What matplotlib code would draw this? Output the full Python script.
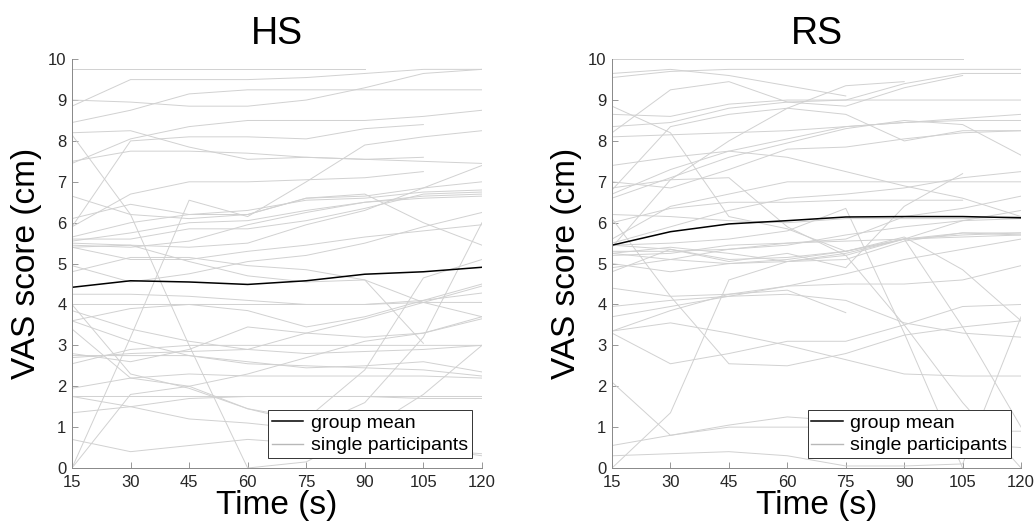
import numpy as np
import matplotlib
matplotlib.use("Agg")
import matplotlib.pyplot as plt

plt.rcParams['font.family'] = ['Liberation Sans', 'DejaVu Sans']

N = np.nan
TIME = [15, 30, 45, 60, 75, 90, 105, 120]

HS_MEAN = [4.42, 4.58, 4.55, 4.49, 4.58, 4.74, 4.80, 4.91]
RS_MEAN = [5.45, 5.78, 5.97, 6.05, 6.14, 6.15, 6.15, 6.12]

# one row per participant, VAS at each time point
HS_SINGLE = [
    [9.75, 9.75, 9.75, 9.75, 9.75, 9.75, N, N],
    [8.85, 9.5, 9.5, 9.5, 9.55, 9.65, 9.75, 9.75],
    [9.0, 8.95, 8.85, 8.85, 9.0, 9.3, 9.65, 9.75],
    [8.45, 8.75, 9.15, 9.25, 9.25, 9.25, 9.25, 9.25],
    [8.2, 8.25, 7.85, 7.55, 7.6, 7.55, 7.5, 7.45],
    [7.45, 8.05, 8.35, 8.5, 8.5, 8.5, 8.6, 8.75],
    [7.5, 7.75, 7.75, 7.7, 7.6, 7.55, 7.6, N],
    [5.9, 8.0, 8.1, 8.1, 8.05, 8.3, 8.4, N],
    [8.15, 6.2, 3.0, 0.0, 0.15, 0.9, 1.8, 3.0],
    [0.0, 3.2, 6.55, 6.15, 7.0, 7.9, 8.1, 8.25],
    [5.9, 6.7, 7.0, 7.0, 7.05, 7.1, 7.25, N],
    [6.1, 6.45, 6.2, 6.2, 6.6, 6.65, 6.85, 7.4],
    [6.65, 6.2, 6.1, 6.2, 6.6, 6.7, 6.0, 5.45],
    [5.65, 6.0, 6.2, 6.3, 6.55, 6.6, 6.75, 6.8],
    [5.6, 5.6, 5.85, 5.85, 6.05, 6.35, 6.7, 6.75],
    [5.55, 5.75, 6.0, 6.05, 6.3, 6.5, 6.65, 6.7],
    [5.45, 5.4, 5.55, 5.95, 6.25, 6.5, 6.6, 6.65],
    [5.4, 5.45, 5.4, 5.5, 5.95, 6.3, 6.85, 7.0],
    [5.4, 5.1, 5.1, 5.3, 5.45, 5.65, 5.8, 5.95],
    [5.5, 5.45, 5.05, 4.7, 4.55, 4.6, 4.05, 3.7],
    [4.8, 5.15, 5.15, 4.95, 4.85, 4.6, 3.05, N],
    [4.95, 4.55, 4.75, 5.05, 5.2, 5.5, 5.9, 6.25],
    [4.25, 4.25, 4.2, 4.1, 4.0, 4.0, 4.1, 4.28],
    [4.0, 4.0, 4.0, 4.0, 4.0, 4.0, 4.05, 4.05],
    [3.6, 3.9, 4.0, 3.85, 3.45, 3.7, 4.1, 4.5],
    [2.7, 2.8, 2.85, 2.9, 3.3, 3.65, 4.05, 4.45],
    [2.8, 2.6, 2.9, 3.45, 3.3, 3.2, 3.3, 3.7],
    [3.6, 3.1, 2.75, 2.55, 2.5, 2.45, 2.4, 2.25],
    [2.55, 2.9, 3.0, 3.0, 3.0, 3.0, 3.0, 3.0],
    [2.75, 2.75, 2.75, 2.6, 2.45, 2.5, 2.6, 2.35],
    [1.95, 2.2, 2.3, 2.25, 2.25, 2.25, 2.25, 2.2],
    [1.35, 1.5, 1.7, 1.75, 1.75, 1.75, 1.75, 1.75],
    [1.75, 1.75, 1.75, 1.75, 1.75, 1.75, 1.7, 1.7],
    [0.7, 0.4, 0.55, 0.7, 0.6, 0.5, 0.45, 0.35],
    [0.0, 1.8, 2.0, 1.45, 1.1, 0.8, 0.5, 0.3],
    [3.85, 3.4, 3.1, 2.9, 2.8, 2.85, 2.9, 3.0],
    [3.4, 2.2, 2.0, 2.3, 2.7, 3.1, 3.3, 3.65],
    [4.0, 2.3, 1.95, 1.45, 1.2, 2.4, 4.65, 5.1],
    [1.75, 1.5, 1.2, 1.1, 0.95, 1.6, 3.2, 6.0],
]

RS_SINGLE = [
    [10.0, 10.0, 10.0, 10.0, 10.0, 10.0, 10.0, N],
    [9.55, 9.7, 9.75, 9.75, 9.75, 9.75, 9.75, 9.75],
    [9.65, 9.75, 9.6, 9.35, 9.1, N, N, N],
    [8.2, 9.25, 9.45, 8.95, 8.85, 9.3, 9.6, N],
    [8.85, 8.2, 6.15, 5.85, 5.3, 5.65, 4.85, 3.6],
    [8.65, 8.6, 8.9, 9.0, 9.0, 9.0, 9.0, 9.0],
    [8.35, 8.45, 8.8, 8.95, 9.0, 9.4, 9.65, 9.65],
    [8.1, 8.15, 8.2, 8.25, 8.35, 8.45, 8.5, 8.5],
    [7.4, 7.6, 7.75, 7.6, 7.25, 6.9, 6.6, 6.15],
    [6.8, 8.35, 8.65, 8.8, 8.65, 8.0, 8.25, 8.25],
    [6.7, 7.3, 7.75, 8.05, 8.35, 8.45, 8.55, 8.65],
    [6.6, 7.1, 7.6, 7.95, 8.3, 8.5, 8.4, 7.65],
    [7.0, 6.85, 7.3, 7.8, 7.85, 8.05, 8.2, 8.25],
    [6.0, 6.35, 6.5, 6.5, 6.55, 6.55, 6.55, N],
    [5.6, 6.4, 6.7, 7.0, 7.0, 7.0, 7.0, 7.0],
    [5.4, 7.05, 8.0, 8.8, 9.35, 9.45, N, N],
    [6.2, 6.15, 6.05, 6.0, 6.1, 6.1, 6.1, 6.15],
    [6.1, 4.2, 2.55, 2.5, 2.8, 3.25, 3.45, 3.6],
    [5.45, 5.35, 5.1, 5.15, 5.3, 5.6, 5.7, 5.75],
    [5.25, 5.4, 5.25, 5.05, 5.1, 5.55, 5.75, 5.75],
    [5.2, 5.25, 5.45, 5.5, 5.55, 5.6, 5.65, 5.7],
    [5.3, 5.3, 5.35, 5.45, 5.7, 5.9, 6.05, 6.1],
    [4.9, 5.1, 5.35, 5.5, 5.6, 6.15, 6.35, 6.65],
    [5.0, 4.8, 5.0, 5.05, 5.2, 5.6, 6.05, 6.3],
    [4.8, 5.35, 5.05, 5.25, 4.9, 6.4, 7.2, N],
    [5.5, 5.9, 6.3, 6.6, 6.7, 6.85, 7.1, 7.25],
    [4.4, 4.2, 4.25, 4.35, 3.8, N, N, N],
    [3.95, 4.1, 4.2, 4.45, 4.75, 5.1, 5.35, 5.6],
    [3.7, 3.95, 4.2, 4.25, 4.1, 3.55, 3.3, 3.2],
    [3.35, 3.85, 4.25, 4.45, 4.5, 4.5, 4.6, 4.95],
    [3.3, 2.55, 2.8, 3.1, 3.1, 3.5, 3.95, 4.0],
    [3.35, 3.55, 3.3, 3.0, 2.65, 2.3, 2.25, 2.25],
    [0.0, 1.35, 4.6, 5.05, 5.25, 5.6, 5.75, 5.7],
    [0.55, 0.8, 1.05, 1.25, 1.15, 1.0, 0.9, 0.9],
    [0.3, 0.35, 0.4, 0.3, 0.05, 0.05, 0.1, 3.7],
    [2.1, 0.8, 1.0, 1.0, 1.0, 0.8, 0.6, 0.5],
    [6.85, 7.05, 7.1, 5.9, 5.2, 3.5, 1.6, 0.0],
    [5.25, 5.1, 5.0, 5.1, 5.3, 5.6, 3.45, 1.0],
    [5.45, 5.5, 5.6, 5.8, 6.35, 3.3, 0.0, N],
]

GRAY = (0.82, 0.82, 0.82)


def draw_panel(ax, single, mean, title):
    for row in single:
        ax.plot(TIME, row, color=GRAY, lw=0.7)
    ax.plot(TIME, mean, color='black', lw=1.1)
    ax.set_xlim(15, 120)
    ax.set_ylim(0, 10)
    ax.set_xticks(TIME)
    ax.set_yticks(range(0, 11))
    ax.tick_params(direction='in', length=4, width=0.6, color='#888888',
                   labelsize=12, labelcolor='#262626')
    ax.tick_params(axis='x', pad=5)
    ax.tick_params(axis='y', pad=4)
    for side in ['top', 'right']:
        ax.spines[side].set_visible(False)
    for side in ['left', 'bottom']:
        ax.spines[side].set_color('#888888')
        ax.spines[side].set_linewidth(0.7)
    ax.set_title(title, fontsize=27, pad=11)
    ax.set_xlabel('Time (s)', fontsize=24, labelpad=0)
    ax.set_ylabel('VAS score (cm)', fontsize=24, labelpad=4)
    ax.plot([], [], color='black', lw=1.1, label='group mean')
    ax.plot([], [], color=(0.72, 0.72, 0.72), lw=1.0, label='single participants')
    h, l = ax.get_legend_handles_labels()
    leg = ax.legend(h[-2:], l[-2:], loc='lower right', fontsize=14,
                    fancybox=False, framealpha=1, edgecolor='#333333',
                    borderpad=0.2, labelspacing=0.25, handlelength=1.6,
                    handletextpad=0.4, borderaxespad=0.5)
    leg.get_frame().set_linewidth(0.7)


fig = plt.figure(figsize=(10.34, 5.31), dpi=100)
ax1 = fig.add_axes([0.0696, 0.1186, 0.3965, 0.770])
ax2 = fig.add_axes([0.5919, 0.1186, 0.3956, 0.770])
draw_panel(ax1, HS_SINGLE, HS_MEAN, 'HS')
draw_panel(ax2, RS_SINGLE, RS_MEAN, 'RS')
fig.savefig('out.png', dpi=100)
